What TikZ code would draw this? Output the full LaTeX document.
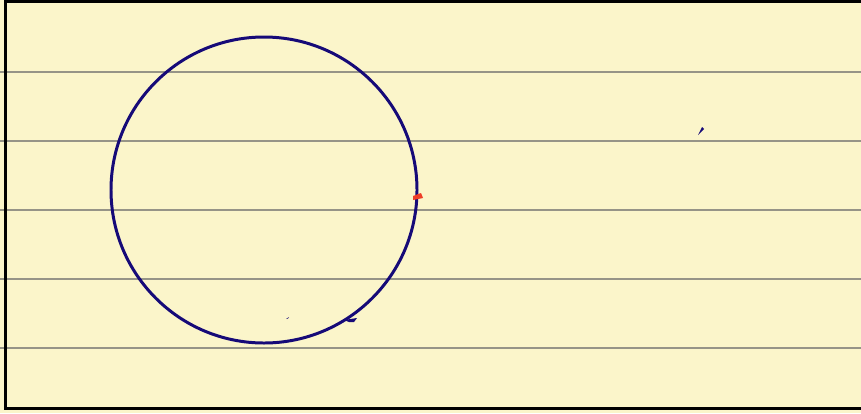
\documentclass[tikz,border=0pt]{standalone}
\usepackage{xcolor}
\usepackage{tikz}
\usetikzlibrary{calc}

\definecolor{paper}{RGB}{251,245,202}
\definecolor{ruleline}{RGB}{150,148,135}
\definecolor{ink}{RGB}{22,10,120}
\definecolor{marker}{RGB}{238,62,40}

\begin{document}
\begin{tikzpicture}[
    x=0.02cm, y=-0.02cm,
    ruled/.style={draw=ruleline, line width=0.6pt},
    frame/.style={draw=black, line width=2pt},
    orbit/.style={draw=ink, line width=1.7pt},
    speck/.style={fill=ink, draw=none},
]
    % Paper
    \fill[paper] (0,0) rectangle (861,413);
    \useasboundingbox (0,0) rectangle (861,413);

    % Ruled lines
    \foreach \ly in {72,141,210,279,348}
        \draw[ruled] (0,\ly) -- (861,\ly);

    % Frame (open on the right)
    \draw[frame] (870,1.5) -- (5.5,1.5) -- (5.5,408.5) -- (870,408.5);

    % Circle
    \coordinate (centre) at (264,190);
    \draw[orbit] (centre) circle[radius=153];

    % Marks
    \fill[marker] (413,196) -- (421,193) -- (423,198) -- (413,200) -- cycle;
    \fill[speck] (698,135) -- (702,127) -- (704,129) -- cycle;
    \fill[speck] (286,319) -- (289,317) -- (288,318.5) -- cycle;
    \fill[speck] (344,320) -- (357,318) -- (354,322) -- (349,322) -- cycle;
\end{tikzpicture}
\end{document}
